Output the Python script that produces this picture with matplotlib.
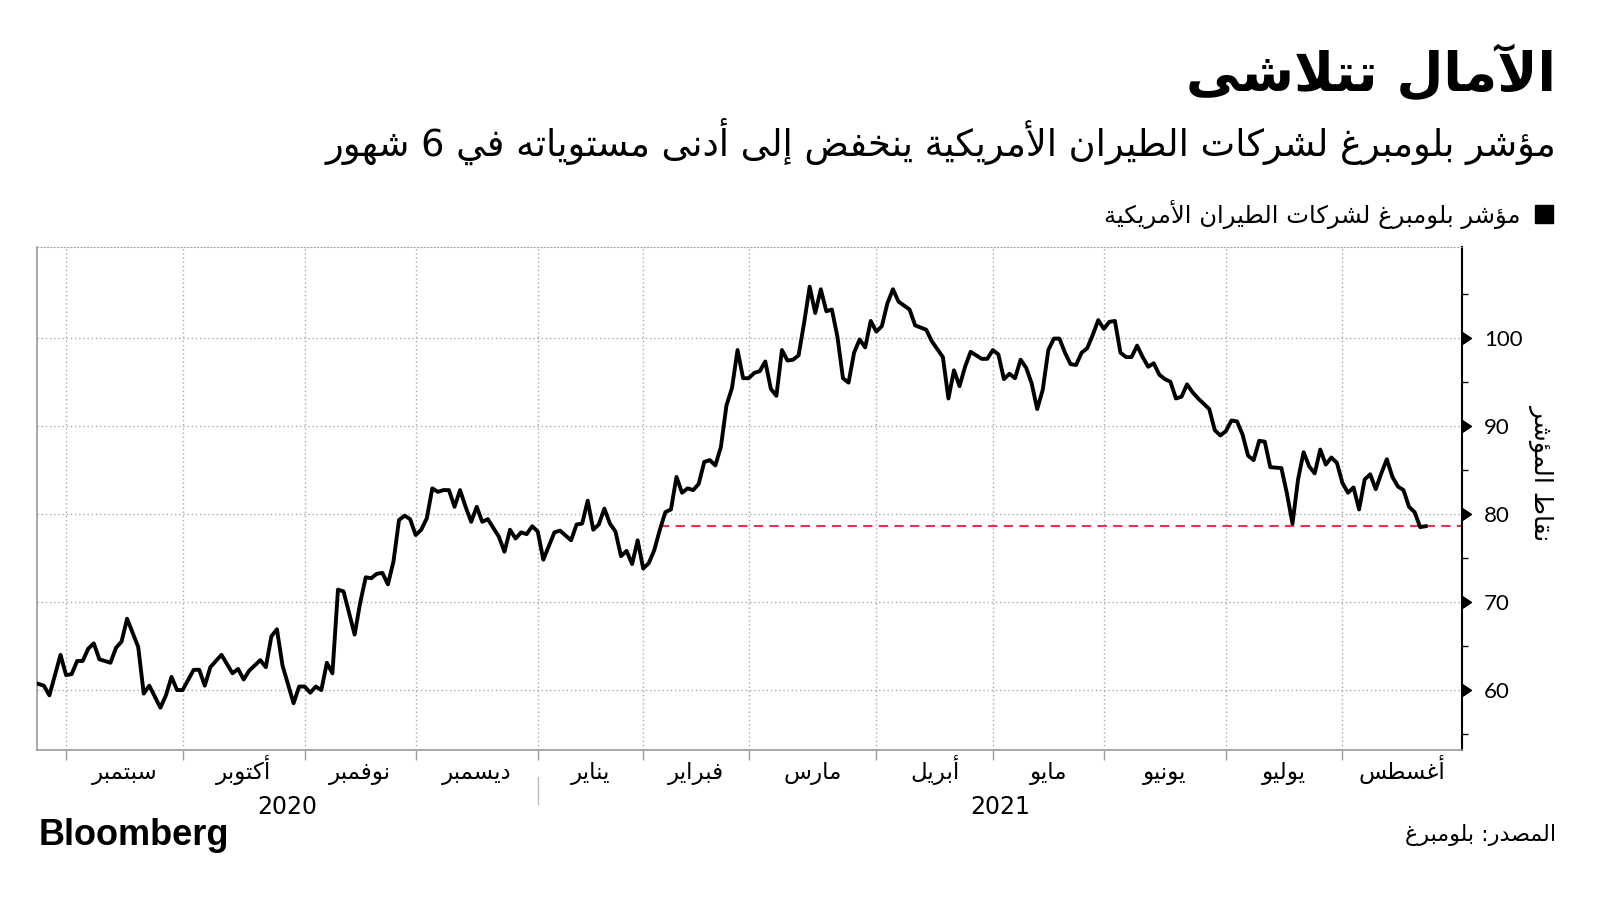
import re
import numpy as np
import pandas as pd
import matplotlib
matplotlib.use('Agg')
import matplotlib.pyplot as plt
from matplotlib.patches import Patch
from matplotlib.transforms import blended_transform_factory

TITLE = 'الآمال تتلاشى'
SUBTITLE = 'مؤشر بلومبرغ لشركات الطيران الأمريكية ينخفض إلى أدنى مستوياته في 6 شهور'
LEGEND = 'مؤشر بلومبرغ لشركات الطيران الأمريكية'
Y_LABEL = 'نقاط المؤشر'
SOURCE = 'المصدر: بلومبرغ'
MONTHS = ['سبتمبر', 'أكتوبر', 'نوفمبر', 'ديسمبر', 'يناير', 'فبراير',
          'مارس', 'أبريل', 'مايو', 'يونيو', 'يوليو', 'أغسطس']
YEARS = ['2020', '2021']
Y_TICKS = [60, 70, 80, 90, 100]
Y_MINOR = [55, 65, 75, 85, 95, 105]

# NYSE closed days inside the window
HOLIDAYS = ['2020-09-07', '2020-11-26', '2020-12-25', '2021-01-01', '2021-01-18',
            '2021-02-15', '2021-04-02', '2021-05-31', '2021-07-05']

DATES = [
    '2020-08-24', '2020-08-25', '2020-08-26', '2020-08-28', '2020-08-31', '2020-09-01',
    '2020-09-02', '2020-09-03', '2020-09-04', '2020-09-08', '2020-09-09', '2020-09-11',
    '2020-09-14', '2020-09-15', '2020-09-16', '2020-09-18', '2020-09-21', '2020-09-22',
    '2020-09-24', '2020-09-25', '2020-09-28', '2020-09-29', '2020-09-30', '2020-10-02',
    '2020-10-05', '2020-10-06', '2020-10-07', '2020-10-09', '2020-10-13', '2020-10-14',
    '2020-10-15', '2020-10-16', '2020-10-20', '2020-10-21', '2020-10-22', '2020-10-23',
    '2020-10-26', '2020-10-28', '2020-10-29', '2020-10-30', '2020-11-02', '2020-11-03',
    '2020-11-04', '2020-11-05', '2020-11-06', '2020-11-09', '2020-11-10', '2020-11-12',
    '2020-11-13', '2020-11-16', '2020-11-17', '2020-11-18', '2020-11-19', '2020-11-20',
    '2020-11-23', '2020-11-24', '2020-11-25', '2020-11-27', '2020-11-30', '2020-12-01',
    '2020-12-02', '2020-12-03', '2020-12-04', '2020-12-07', '2020-12-08', '2020-12-09',
    '2020-12-10', '2020-12-11', '2020-12-14', '2020-12-15', '2020-12-16', '2020-12-17',
    '2020-12-21', '2020-12-22', '2020-12-23', '2020-12-24', '2020-12-28', '2020-12-29',
    '2020-12-30', '2020-12-31', '2021-01-04', '2021-01-06', '2021-01-07', '2021-01-11',
    '2021-01-12', '2021-01-13', '2021-01-14', '2021-01-15', '2021-01-19', '2021-01-20',
    '2021-01-21', '2021-01-22', '2021-01-25', '2021-01-26', '2021-01-27', '2021-01-28',
    '2021-01-29', '2021-02-01', '2021-02-02', '2021-02-03', '2021-02-04', '2021-02-05',
    '2021-02-08', '2021-02-09', '2021-02-10', '2021-02-11', '2021-02-12', '2021-02-16',
    '2021-02-17', '2021-02-18', '2021-02-19', '2021-02-22', '2021-02-23', '2021-02-24',
    '2021-02-25', '2021-02-26', '2021-03-01', '2021-03-02', '2021-03-03', '2021-03-04',
    '2021-03-05', '2021-03-08', '2021-03-09', '2021-03-10', '2021-03-11', '2021-03-12',
    '2021-03-15', '2021-03-16', '2021-03-17', '2021-03-18', '2021-03-19', '2021-03-22',
    '2021-03-23', '2021-03-24', '2021-03-25', '2021-03-26', '2021-03-29', '2021-03-30',
    '2021-03-31', '2021-04-01', '2021-04-05', '2021-04-06', '2021-04-07', '2021-04-09',
    '2021-04-12', '2021-04-14', '2021-04-15', '2021-04-19', '2021-04-20', '2021-04-21',
    '2021-04-22', '2021-04-23', '2021-04-26', '2021-04-28', '2021-04-29', '2021-04-30',
    '2021-05-03', '2021-05-04', '2021-05-05', '2021-05-06', '2021-05-07', '2021-05-10',
    '2021-05-11', '2021-05-12', '2021-05-13', '2021-05-14', '2021-05-17', '2021-05-18',
    '2021-05-19', '2021-05-20', '2021-05-21', '2021-05-24', '2021-05-25', '2021-05-26',
    '2021-05-27', '2021-05-28', '2021-06-01', '2021-06-02', '2021-06-03', '2021-06-04',
    '2021-06-07', '2021-06-08', '2021-06-09', '2021-06-10', '2021-06-11', '2021-06-14',
    '2021-06-15', '2021-06-16', '2021-06-17', '2021-06-18', '2021-06-21', '2021-06-22',
    '2021-06-23', '2021-06-25', '2021-06-28', '2021-06-29', '2021-06-30', '2021-07-01',
    '2021-07-02', '2021-07-06', '2021-07-07', '2021-07-08', '2021-07-09', '2021-07-12',
    '2021-07-13', '2021-07-15', '2021-07-16', '2021-07-19', '2021-07-20', '2021-07-21',
    '2021-07-22', '2021-07-23', '2021-07-26', '2021-07-27', '2021-07-28', '2021-07-29',
    '2021-07-30', '2021-08-02', '2021-08-03', '2021-08-04', '2021-08-05', '2021-08-06',
    '2021-08-09', '2021-08-10', '2021-08-11', '2021-08-12', '2021-08-13', '2021-08-16',
    '2021-08-17', '2021-08-18', '2021-08-19', '2021-08-20',
]
VALUES = [
    60.7, 60.5, 59.4, 64.0, 61.7, 61.8,
    63.3, 63.3, 64.7, 65.3, 63.5, 63.1,
    64.8, 65.5, 68.1, 64.9, 59.6, 60.5,
    58.0, 59.4, 61.5, 60.0, 60.0, 62.3,
    62.3, 60.5, 62.6, 64.0, 61.9, 62.4,
    61.2, 62.2, 63.4, 62.6, 66.1, 66.9,
    62.8, 58.5, 60.4, 60.4, 59.7, 60.4,
    60.0, 63.1, 61.9, 71.4, 71.2, 66.3,
    69.9, 72.8, 72.7, 73.2, 73.3, 72.0,
    74.6, 79.3, 79.8, 79.4, 77.6, 78.2,
    79.5, 82.9, 82.5, 82.7, 82.7, 80.8,
    82.7, 80.8, 79.1, 80.8, 79.1, 79.4,
    77.4, 75.7, 78.2, 77.2, 77.9, 77.7,
    78.6, 78.0, 74.8, 77.9, 78.1, 77.0,
    78.8, 78.9, 81.5, 78.2, 78.8, 80.6,
    78.9, 78.0, 75.2, 75.8, 74.3, 77.0,
    73.8, 74.4, 75.9, 78.2, 80.2, 80.5,
    84.2, 82.4, 82.9, 82.7, 83.4, 85.9,
    86.1, 85.5, 87.6, 92.3, 94.3, 98.6,
    95.4, 95.4, 96.0, 96.2, 97.3, 94.2,
    93.4, 98.6, 97.4, 97.5, 98.0, 101.7,
    105.8, 102.8, 105.5, 103.0, 103.2, 100.1,
    95.4, 94.9, 98.3, 99.8, 98.9, 101.9,
    100.7, 101.3, 103.9, 105.5, 104.1, 103.2,
    101.4, 100.9, 99.6, 97.8, 93.1, 96.3,
    94.5, 96.7, 98.4, 97.6, 97.6, 98.6,
    98.1, 95.3, 95.9, 95.4, 97.5, 96.6,
    94.8, 91.9, 94.1, 98.6, 99.9, 99.9,
    98.3, 97.0, 96.9, 98.3, 98.8, 100.3,
    102.0, 101.0, 101.8, 101.9, 98.3, 97.8,
    97.8, 99.1, 97.8, 96.7, 97.1, 95.8,
    95.3, 95.0, 93.1, 93.3, 94.7, 93.8,
    93.1, 91.9, 89.5, 88.9, 89.4, 90.6,
    90.5, 89.0, 86.6, 86.1, 88.3, 88.2,
    85.3, 85.2, 82.3, 78.9, 83.9, 87.0,
    85.4, 84.6, 87.3, 85.6, 86.4, 85.8,
    83.5, 82.4, 83.0, 80.5, 83.9, 84.5,
    82.8, 84.6, 86.2, 84.2, 83.1, 82.7,
    80.8, 80.2, 78.5, 78.6,
]
LOW_FROM = '2021-02-03'

# Arabic contextual forms (matplotlib has no shaping): first presentation form, number of forms
FORMS = {
    'ء': (0xFE80, 1), 'آ': (0xFE81, 2), 'أ': (0xFE83, 2), 'ؤ': (0xFE85, 2), 'إ': (0xFE87, 2),
    'ئ': (0xFE89, 4), 'ا': (0xFE8D, 2), 'ب': (0xFE8F, 4), 'ة': (0xFE93, 2), 'ت': (0xFE95, 4),
    'ث': (0xFE99, 4), 'ج': (0xFE9D, 4), 'ح': (0xFEA1, 4), 'خ': (0xFEA5, 4), 'د': (0xFEA9, 2),
    'ذ': (0xFEAB, 2), 'ر': (0xFEAD, 2), 'ز': (0xFEAF, 2), 'س': (0xFEB1, 4), 'ش': (0xFEB5, 4),
    'ص': (0xFEB9, 4), 'ض': (0xFEBD, 4), 'ط': (0xFEC1, 4), 'ظ': (0xFEC5, 4), 'ع': (0xFEC9, 4),
    'غ': (0xFECD, 4), 'ف': (0xFED1, 4), 'ق': (0xFED5, 4), 'ك': (0xFED9, 4), 'ل': (0xFEDD, 4),
    'م': (0xFEE1, 4), 'ن': (0xFEE5, 4), 'ه': (0xFEE9, 4), 'و': (0xFEED, 2), 'ى': (0xFEEF, 2),
    'ي': (0xFEF1, 4),
}
LAM_ALEF = {'آ': 0xFEF5, 'أ': 0xFEF7, 'إ': 0xFEF9, 'ا': 0xFEFB}


def ar(text):
    glyphs = []
    i = 0
    while i < len(text):
        c = text[i]
        if c == 'ل' and i + 1 < len(text) and text[i + 1] in LAM_ALEF:
            glyphs.append((LAM_ALEF[text[i + 1]], 2))
            i += 2
            continue
        glyphs.append(FORMS.get(c, (c, 0)))
        i += 1
    out = []
    for k, (g, n) in enumerate(glyphs):
        if n == 0:
            out.append(g)
            continue
        prev = n >= 2 and k > 0 and glyphs[k - 1][1] == 4
        nxt = n == 4 and k + 1 < len(glyphs) and glyphs[k + 1][1] >= 2
        form = 3 if prev and nxt else 1 if prev else 2 if nxt else 0
        out.append(chr(g + form))
    s = ''.join(out)[::-1]
    return re.sub(r'[0-9]+', lambda m: m.group()[::-1], s)


AR_FONT = 'DejaVu Sans'

# the chart runs on trading sessions, so x is the session number
sessions = pd.bdate_range(DATES[0], DATES[-1], freq='C', holidays=HOLIDAYS)
x = sessions.get_indexer(pd.to_datetime(DATES))
pos = pd.Series(np.arange(len(sessions)), index=sessions)
month_ends = pos.groupby(sessions.to_period('M')).max().values[:-1]
x_left, x_right = -0.3, len(sessions) - 1 + 6.5

fig = plt.figure(figsize=(16, 9), dpi=100)
ax = fig.add_axes([0.0229, 0.1667, 0.8907, 0.5589])

ax.plot(x, VALUES, color='black', lw=2.8, solid_joinstyle='round', zorder=3)
ax.hlines(VALUES[-1], sessions.get_loc(pd.Timestamp(LOW_FROM)), x_right,
          color='#e8334f', lw=1.5, linestyles=(0, (4.5, 3)), zorder=2)

ax.set_xlim(x_left, x_right)
ax.set_ylim(53.2, 110.3)

grid_kw = dict(color='#a8a8a8', ls=(0, (1, 2)), lw=1)
ax.set_xticks(month_ends)
ax.set_yticks(Y_TICKS)
ax.set_yticks(Y_MINOR, minor=True)
ax.grid(axis='x', **grid_kw)
ax.grid(axis='y', which='major', **grid_kw)

for side in ['left', 'bottom']:
    ax.spines[side].set_color('#9a9a9a')
    ax.spines[side].set_linewidth(1.2)
ax.spines['top'].set_color('#a8a8a8')
ax.spines['top'].set_linestyle((0, (1, 2)))
ax.spines['right'].set_color('black')
ax.spines['right'].set_linewidth(1.5)

ax.tick_params(axis='x', length=7, width=1, color='#9a9a9a', labelbottom=False)
ax.yaxis.tick_right()
ax.tick_params(axis='y', which='major', length=0, pad=16, labelsize=16)
ax.tick_params(axis='y', which='minor', length=4, width=1, color='black')
for lbl in ax.get_yticklabels():
    lbl.set_family('Lato')

ytrans = blended_transform_factory(ax.transAxes, ax.transData)
ax.plot([1] * len(Y_TICKS), Y_TICKS, ls='none', marker=9, ms=9, color='black',
        transform=ytrans, clip_on=False)

ax.set_ylabel(ar(Y_LABEL), rotation=270, fontsize=18, family=AR_FONT, va='center')
ax.yaxis.set_label_position('right')
ax.yaxis.set_label_coords(1.065, 0.552)

# month and year labels under the axis
xtrans = blended_transform_factory(ax.transData, fig.transFigure)
bounds = list(month_ends) + [x_right]
for name, a, b in zip(MONTHS, bounds[:-1], bounds[1:]):
    ax.text((a + b) / 2, 0.134, ar(name), transform=xtrans, ha='center', va='baseline',
            fontsize=16.5, family=AR_FONT)
year_break = month_ends[4]
ax.text((x_left + year_break) / 2, 0.096, YEARS[0], transform=xtrans, ha='center',
        va='baseline', fontsize=17, family=AR_FONT)
ax.text((year_break + x_right) / 2, 0.096, YEARS[1], transform=xtrans, ha='center',
        va='baseline', fontsize=17, family=AR_FONT)
ax.plot([year_break, year_break], [0.137, 0.107], transform=xtrans, color='#bbbbbb',
        lw=1, clip_on=False)

fig.text(0.9725, 0.918, ar(TITLE), ha='right', va='center', fontsize=39,
         fontweight='bold', family=AR_FONT)
fig.text(0.9725, 0.843, ar(SUBTITLE), ha='right', va='center', fontsize=26.5, family=AR_FONT)

fig.legend(handles=[Patch(color='black', label=ar(LEGEND))], loc='center right',
           bbox_to_anchor=(0.9846, 0.762), frameon=False, markerfirst=False,
           handlelength=0.75, handleheight=0.75, handletextpad=0.6,
           prop={'family': AR_FONT, 'size': 17.5})

fig.text(0.0244, 0.072, 'Bloomberg', ha='left', va='center', fontsize=26,
         fontweight='bold', family='Liberation Sans')
fig.text(0.9725, 0.072, ar(SOURCE), ha='right', va='center', fontsize=16, family=AR_FONT)

fig.savefig('out.png', dpi=100, facecolor='white')
